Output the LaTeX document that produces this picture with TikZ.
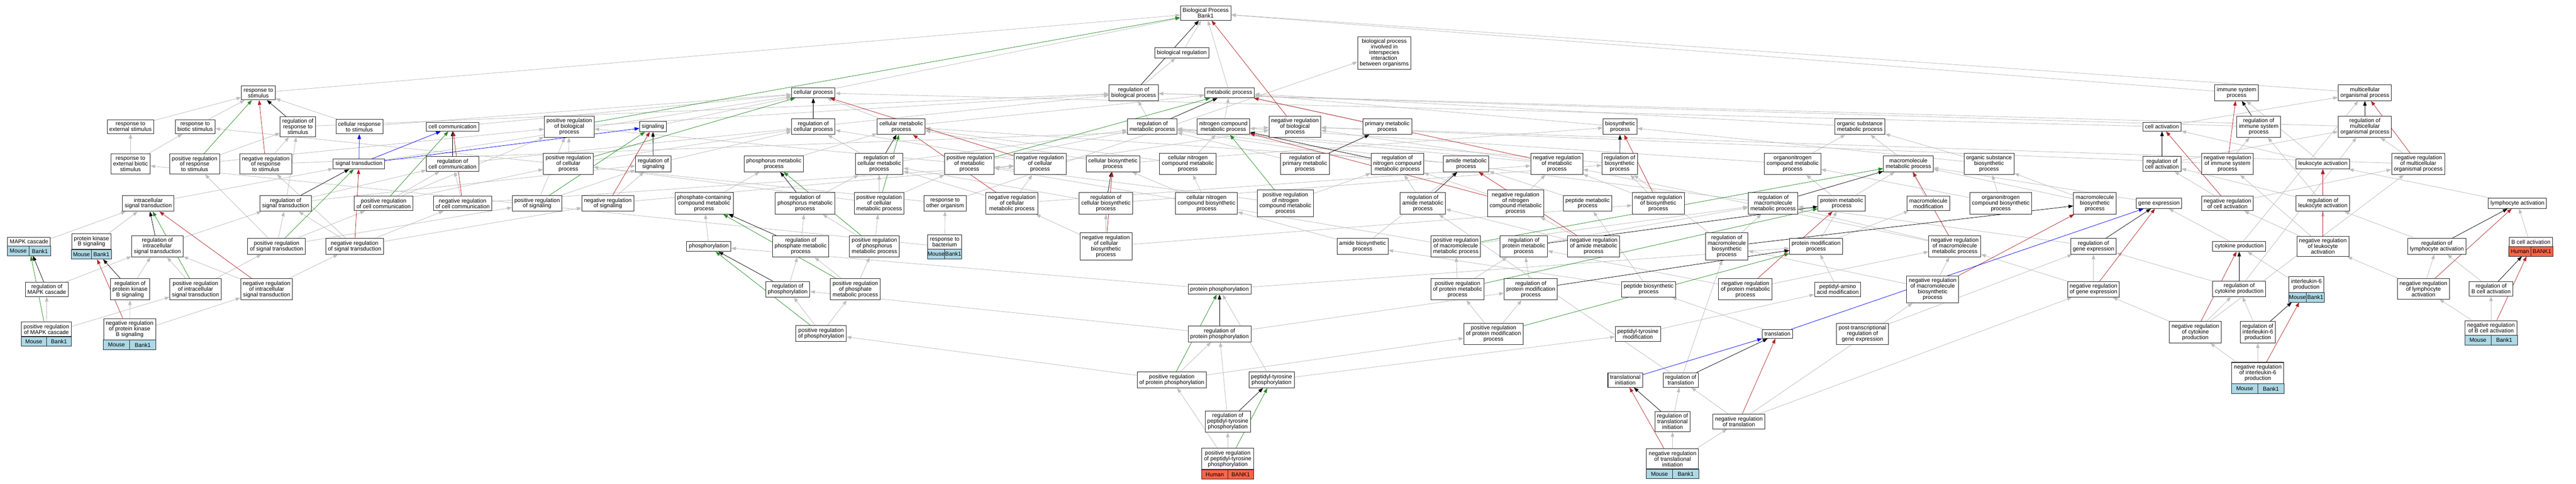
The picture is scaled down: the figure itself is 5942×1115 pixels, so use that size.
\documentclass[tikz,border=0pt]{standalone}
\usepackage{fontspec}
\setmainfont{Liberation Sans}
\usepackage{tikz}
\usetikzlibrary{arrows.meta,fit,backgrounds}
\tikzset{>={Triangle[length=11pt,width=8pt]}}
\usepackage{xcolor}
\definecolor{edgegray}{HTML}{BEBEBE}
\definecolor{posgreen}{HTML}{228B22}
\definecolor{negred}{HTML}{B22222}
\definecolor{mouseblue}{HTML}{ADD8E6}
\definecolor{humanred}{HTML}{FF6347}
\tikzstyle{term}=[draw=black!85,line width=1.2pt,fill=white,align=center,inner xsep=5pt,inner ysep=5.5pt,font=\fontsize{13}{13}\selectfont]
\tikzstyle{orgrow}=[draw=black!85,line width=1.2pt]
\tikzstyle{orgtext}=[inner sep=0pt,font=\fontsize{13}{13}\selectfont]
\tikzstyle{isa}=[->,draw=edgegray,line width=1pt]
\tikzstyle{reg}=[->,draw=black,line width=0.9pt]
\tikzstyle{preg}=[->,draw=posgreen,line width=0.9pt]
\tikzstyle{nreg}=[->,draw=negred,line width=0.9pt]
\tikzstyle{partof}=[->,draw=blue,line width=0.9pt]
% organism / gene row under a term
\newcommand\species[4]{%
  \coordinate (#1-c) at ([yshift=-22pt]#1-t.south east);
  \coordinate (#1-m) at ([yshift=-22pt]#1-t.south);
  \draw[orgrow,fill=#4] (#1-t.south west) rectangle (#1-c);
  \draw[orgrow] (#1-t.south) -- (#1-m);
  \path (#1-t.south west) -- (#1-m) node[midway,orgtext] {#2};
  \path (#1-t.south) -- (#1-c) node[midway,orgtext] {#3};
  \node[fit=(#1-t)(#1-c),inner sep=0pt] (#1) {};
}
\begin{document}
\begin{tikzpicture}[x=1pt,y=-1pt]
  \useasboundingbox (0,0) rectangle (5942,1115);
  % top
  \node[term] (bp) at (2781,30) {Biological Process\\Bank1};
  \node[term] (breg) at (2726,122) {biological regulation};
  \node[term] (bpii) at (3193,122) {biological process\\involved in\\interspecies\\interaction\\between organisms};
  % row 1
  \node[term] (rts) at (596,214) {response to\\stimulus};
  \node[term] (cp) at (1876,214) {cellular process};
  \node[term] (rbp) at (2615,214) {regulation of\\biological process};
  \node[term] (mp) at (2836,214) {metabolic process};
  \node[term] (isp) at (5159,214) {immune system\\process};
  \node[term] (mop) at (5455,214) {multicellular\\organismal process};
  % row 2
  \node[term] (rtes) at (301,292) {response to\\external stimulus};
  \node[term] (rtbs) at (450,292) {response to\\biotic stimulus};
  \node[term] (rrts) at (687,292) {regulation of\\response to\\stimulus};
  \node[term] (crts) at (829,292) {cellular response\\to stimulus};
  \node[term] (cc) at (1044,292) {cell communication};
  \node[term] (prbp) at (1313,292) {positive regulation\\of biological\\process};
  \node[term] (sig) at (1506,292) {signaling};
  \node[term] (rcp) at (1876,292) {regulation of\\cellular process};
  \node[term] (cmp) at (2079,292) {cellular metabolic\\process};
  \node[term] (rmp) at (2658,292) {regulation of\\metabolic process};
  \node[term] (ncmp) at (2822,292) {nitrogen compound\\metabolic process};
  \node[term] (nrbp) at (2987,292) {negative regulation\\of biological\\process};
  \node[term] (primp) at (3200,292) {primary metabolic\\process};
  \node[term] (bsp) at (3737,292) {biosynthetic\\process};
  \node[term] (osmp) at (4290,292) {organic substance\\metabolic process};
  \node[term] (ca) at (4987,292) {cell activation};
  \node[term] (risp) at (5210,292) {regulation of\\immune system\\process};
  \node[term] (rmop) at (5455,292) {regulation of\\multicellular\\organismal process};
  % row 3
  \node[term] (rtebs) at (301,378) {response to\\external biotic\\stimulus};
  \node[term] (prrts) at (449,378) {positive regulation\\of response\\to stimulus};
  \node[term] (nrrts) at (613,378) {negative regulation\\of response\\to stimulus};
  \node[term] (st) at (828,378) {signal transduction};
  \node[term] (rcc) at (1044,378) {regulation of\\cell communication};
  \node[term] (prcp) at (1311,378) {positive regulation\\of cellular\\process};
  \node[term] (rsig) at (1507,378) {regulation of\\signaling};
  \node[term] (phmp) at (1785,378) {phosphorus metabolic\\process};
  \node[term] (rcmp) at (2028,378) {regulation of\\cellular metabolic\\process};
  \node[term] (prmp) at (2236,378) {positive regulation\\of metabolic\\process};
  \node[term] (nrcp) at (2399,378) {negative regulation\\of cellular\\process};
  \node[term] (cbp) at (2567,378) {cellular biosynthetic\\process};
  \node[term] (cncmp) at (2740,378) {cellular nitrogen\\compound metabolic\\process};
  \node[term] (rprimp) at (3010,378) {regulation of\\primary metabolic\\process};
  \node[term] (rncmp) at (3223,378) {regulation of\\nitrogen compound\\metabolic process};
  \node[term] (amp) at (3382,378) {amide metabolic\\process};
  \node[term] (nrmp) at (3591,378) {negative regulation\\of metabolic\\process};
  \node[term] (rbsp) at (3736,378) {regulation of\\biosynthetic\\process};
  \node[term] (oncmp) at (4135,378) {organonitrogen\\compound metabolic\\process};
  \node[term] (mmp) at (4402,378) {macromolecule\\metabolic process};
  \node[term] (osbp) at (4588,378) {organic substance\\biosynthetic\\process};
  \node[term] (rca) at (4987,378) {regulation of\\cell activation};
  \node[term] (nrisp) at (5138,378) {negative regulation\\of immune system\\process};
  \node[term] (la) at (5358,378) {leukocyte activation};
  \node[term] (nrmop) at (5578,378) {negative regulation\\of multicellular\\organismal process};
  % row 4
  \node[term] (ist) at (342,469) {intracellular\\signal transduction};
  \node[term] (rst) at (659,469) {regulation of\\signal transduction};
  \node[term] (prcc) at (885,469) {positive regulation\\of cell communication};
  \node[term] (nrcc) at (1067,469) {negative regulation\\of cell communication};
  \node[term] (prsig) at (1239,469) {positive regulation\\of signaling};
  \node[term] (nrsig) at (1402,469) {negative regulation\\of signaling};
  \node[term] (pcmp) at (1624,469) {phosphate-containing\\compound metabolic\\process};
  \node[term] (rphmp) at (1857,469) {regulation of\\phosphorus metabolic\\process};
  \node[term] (prcmp) at (2028,469) {positive regulation\\of cellular\\metabolic process};
  \node[term] (rtoo) at (2180,469) {response to\\other organism};
  \node[term] (nrcmp) at (2334,469) {negative regulation\\of cellular\\metabolic process};
  \node[term] (rcbp) at (2551,469) {regulation of\\cellular biosynthetic\\process};
  \node[term] (cncbp) at (2783,469) {cellular nitrogen\\compound biosynthetic\\process};
  \node[term] (prncmp) at (2965,469) {positive regulation\\of nitrogen\\compound metabolic\\process};
  \node[term] (ramp) at (3282,469) {regulation of\\amide metabolic\\process};
  \node[term] (nrncmp) at (3496,469) {negative regulation\\of nitrogen\\compound metabolic\\process};
  \node[term] (pepmp) at (3662,469) {peptide metabolic\\process};
  \node[term] (nrbsp) at (3825,469) {negative regulation\\of biosynthetic\\process};
  \node[term] (rmmp) at (4090,469) {regulation of\\macromolecule\\metabolic process};
  \node[term] (prtmp) at (4248,469) {protein metabolic\\process};
  \node[term] (mmod) at (4448,469) {macromolecule\\modification};
  \node[term] (oncbp) at (4615,469) {organonitrogen\\compound biosynthetic\\process};
  \node[term] (mbp) at (4832,469) {macromolecule\\biosynthetic\\process};
  \node[term] (ge) at (4980,469) {gene expression};
  \node[term] (nrca) at (5138,469) {negative regulation\\of cell activation};
  \node[term] (rla) at (5358,469) {regulation of\\leukocyte activation};
  \node[term] (lya) at (5807,469) {lymphocyte activation};
  % row 5
  \node[term] (mapk-t) at (67,557) {MAPK cascade};
  \node[term] (pkb-t) at (211,557) {protein kinase\\B signaling};
  \node[term] (rist) at (363,568) {regulation of\\intracellular\\signal transduction};
  \node[term] (prst) at (638,568) {positive regulation\\of signal transduction};
  \node[term] (nrst) at (818,568) {negative regulation\\of signal transduction};
  \node[term] (phos) at (1635,568) {phosphorylation};
  \node[term] (rphamp) at (1847,568) {regulation of\\phosphate metabolic\\process};
  \node[term] (prphmp) at (2017,568) {positive regulation\\of phosphorus\\metabolic process};
  \node[term] (rtb-t) at (2179,558) {response to\\bacterium};
  \node[term] (nrcbp) at (2551,568) {negative regulation\\of cellular\\biosynthetic\\process};
  \node[term] (abp) at (3143,568) {amide biosynthetic\\process};
  \node[term] (prmmp) at (3358,568) {positive regulation\\of macromolecule\\metabolic process};
  \node[term] (rprtmp) at (3515,568) {regulation of\\protein metabolic\\process};
  \node[term] (nramp) at (3676,568) {negative regulation\\of amide metabolic\\process};
  \node[term] (rmbp) at (3983,568) {regulation of\\macromolecule\\biosynthetic\\process};
  \node[term] (pmod) at (4189,568) {protein modification\\process};
  \node[term] (nrmmp) at (4509,568) {negative regulation\\of macromolecule\\metabolic process};
  \node[term] (rge) at (4829,568) {regulation of\\gene expression};
  \node[term] (cyp) at (5165,568) {cytokine production};
  \node[term] (nrla) at (5358,568) {negative regulation\\of leukocyte\\activation};
  \node[term] (rlya) at (5621,568) {regulation of\\lymphocyte activation};
  \node[term] (bca-t) at (5838,558) {B cell activation};
  % row 6
  \node[term] (rmc) at (108,667) {regulation of\\MAPK cascade};
  \node[term] (rpkb) at (300,667) {regulation of\\protein kinase\\B signaling};
  \node[term] (prist) at (451,667) {positive regulation\\of intracellular\\signal transduction};
  \node[term] (nrist) at (615,667) {negative regulation\\of intracellular\\signal transduction};
  \node[term] (rphos) at (1817,667) {regulation of\\phosphorylation};
  \node[term] (prphamp) at (1973,667) {positive regulation\\of phosphate\\metabolic process};
  \node[term] (pphos) at (2813,667) {protein phosphorylation};
  \node[term] (prprtmp) at (3362,667) {positive regulation\\of protein metabolic\\process};
  \node[term] (rpmod) at (3531,667) {regulation of\\protein modification\\process};
  \node[term] (pepbp) at (3803,667) {peptide biosynthetic\\process};
  \node[term] (nrprtmp) at (4026,667) {negative regulation\\of protein metabolic\\process};
  \node[term] (pamod) at (4239,667) {peptidyl-amino\\acid modification};
  \node[term] (nrmbp) at (4458,667) {negative regulation\\of macromolecule\\biosynthetic\\process};
  \node[term] (nrge) at (4829,667) {negative regulation\\of gene expression};
  \node[term] (rcyp) at (5165,666) {regulation of\\cytokine production};
  \node[term] (il6-t) at (5320,656) {interleukin-6\\production};
  \node[term] (nrlya) at (5590,666) {negative regulation\\of lymphocyte\\activation};
  \node[term] (rbca) at (5746,666) {regulation of\\B cell activation};
  % row 7
  \node[term] (prmc-t) at (107,759) {positive regulation\\of MAPK cascade};
  \node[term] (nrpkb-t) at (299,759) {negative regulation\\of protein kinase\\B signaling};
  \node[term] (prphos) at (1894,769) {positive regulation\\of phosphorylation};
  \node[term] (rpphos) at (2813,770) {regulation of\\protein phosphorylation};
  \node[term] (prpmod) at (3445,770) {positive regulation\\of protein modification\\process};
  \node[term] (ptmod) at (3778,770) {peptidyl-tyrosine\\modification};
  \node[term] (trans) at (4100,770) {translation};
  \node[term] (ptrge) at (4296,770) {post-transcriptional\\regulation of\\gene expression};
  \node[term] (nrcyp) at (5064,766) {negative regulation\\of cytokine\\production};
  \node[term] (ril6) at (5208,766) {regulation of\\interleukin-6\\production};
  \node[term] (nrbca-t) at (5746,756) {negative regulation\\of B cell activation};
  % row 8 and below
  \node[term] (prpphos) at (2703,876) {positive regulation\\of protein phosphorylation};
  \node[term] (ptphos) at (2933,876) {peptidyl-tyrosine\\phosphorylation};
  \node[term] (ti) at (3749,876) {translational\\initiation};
  \node[term] (rtrans) at (3877,876) {regulation of\\translation};
  \node[term] (nril6-t) at (5208,860) {negative regulation\\of interleukin-6\\production};
  \node[term] (rptphos) at (2832,972) {regulation of\\peptidyl-tyrosine\\phosphorylation};
  \node[term] (rti) at (3858,972) {regulation of\\translational\\initiation};
  \node[term] (nrtrans) at (4011,972) {negative regulation\\of translation};
  \node[term] (prptphos-t) at (2832,1058) {positive regulation\\of peptidyl-tyrosine\\phosphorylation};
  \node[term] (nrti-t) at (3858,1058) {negative regulation\\of translational\\initiation};
  % annotated terms
  \species{mapk}{Mouse}{Bank1}{mouseblue}
  \species{pkb}{Mouse}{Bank1}{mouseblue}
  \species{prmc}{Mouse}{Bank1}{mouseblue}
  \species{nrpkb}{Mouse}{Bank1}{mouseblue}
  \species{rtb}{Mouse}{Bank1}{mouseblue}
  \species{prptphos}{Human}{BANK1}{humanred}
  \species{nrti}{Mouse}{Bank1}{mouseblue}
  \species{il6}{Mouse}{Bank1}{mouseblue}
  \species{bca}{Human}{BANK1}{humanred}
  \species{nrbca}{Mouse}{Bank1}{mouseblue}
  \species{nril6}{Mouse}{Bank1}{mouseblue}

  \begin{pgfonlayer}{background}
  % is_a
  \foreach \a/\b in {rts/bp,rtes/rts,rtbs/rts,crts/rts,rtebs/rtes,rtebs/rtbs,prrts/rrts,nrrts/rrts,prrts/prbp,nrrts/nrbp,
      rrts/rbp,crts/cp,st/cp,ist/st,rst/rrts,rst/rcc,prcc/rcc,prcc/prbp,prst/prrts,nrst/nrrts,prst/rst,nrst/rst,
      prst/prcc,nrst/nrcc,mapk/ist,pkb/ist,rist/rst,rmc/rist,rpkb/rist,prist/rist,prist/prst,nrist/rist,nrist/nrst,
      prmc/rmc,prmc/prist,nrpkb/rpkb,nrpkb/nrist,cc/cp,rcc/rcp,prbp/rbp,prcp/prbp,prcp/rcp,sig/cp,rsig/rcp,
      nrcc/rcc,prsig/rsig,nrsig/rsig,prsig/prbp,nrsig/nrcp,prcc/prcp,rst/rsig,prst/prsig,nrst/nrsig,nrcc/nrcp,
      nrcp/rcp,rcp/rbp,phmp/cmp,pcmp/phmp,rphmp/rcmp,phos/pcmp,rphamp/rphmp,prphmp/rphmp,prphamp/rphamp,
      prphamp/prphmp,rphos/rphamp,prphos/rphos,prphos/prphamp,pphos/phos,prphmp/prcmp}
    \draw[isa] (\a) -- (\b);
  \foreach \a/\b in {breg/bp,rbp/breg,mp/bp,cp/bp,cmp/mp,cmp/cp,rmp/rbp,prmp/rmp,prmp/prbp,ncmp/mp,cncmp/ncmp,
      cncmp/cmp,cbp/cmp,cbp/bsp,rcbp/rcmp,rcbp/rbsp,cncbp/cncmp,cncbp/cbp,rtoo/rtbs,rtoo/bpii,rtb/rtoo,rtb/rtebs,
      nrcmp/rcmp,nrcmp/nrcp,nrcmp/nrmp,prcmp/rcmp,prcmp/prmp,prcmp/prcp,rprimp/rmp,nrcbp/rcbp,nrcbp/nrbsp,
      nrcbp/nrcmp,rcmp/rmp,rcmp/rcp,nrcp/nrbp,primp/mp,bsp/mp,rbsp/rmp,nrbsp/rbsp,nrbsp/nrmp,nrmp/rmp,nrmp/nrbp,
      amp/cmp,pepmp/amp,pepbp/pepmp,pepbp/abp,ramp/rncmp,nramp/ramp,nramp/nrncmp,nrncmp/rncmp,nrncmp/nrmp,
      prncmp/rncmp,prncmp/prmp,rncmp/rmp,abp/amp,abp/cncbp,prmmp/rmmp,rprtmp/rmmp,prprtmp/rprtmp,prprtmp/prmmp,
      rpmod/rprtmp,prpmod/prprtmp,prpmod/rpmod,ptmod/pamod,rti/rtrans,nrti/rti,nrti/nrtrans,nrtrans/rtrans,
      rtrans/rmbp,rtrans/ramp,rmbp/rbsp,rmbp/rmmp}
    \draw[isa] (\a) -- (\b);
  \foreach \a/\b in {osmp/mp,oncmp/osmp,oncmp/ncmp,mmp/osmp,osbp/osmp,osbp/bsp,ca/cp,rmmp/rmp,prtmp/mmp,
      prtmp/oncmp,mmod/mmp,oncbp/osbp,oncbp/oncmp,mbp/osbp,mbp/mmp,ge/mmp,pmod/mmod,pmod/prtmp,pamod/pmod,
      nrmbp/nrmmp,nrmbp/rmbp,nrmmp/rmmp,nrge/rge,ptrge/rge,nrge/nrmmp,nrprtmp/rprtmp,nrprtmp/nrmmp,nrtrans/nrge,
      nrtrans/nrmbp,trans/pepbp,pphos/pmod,ptphos/pphos,ptphos/ptmod,rpphos/rphos,prpphos/rpphos,prpphos/prphos,
      rptphos/rpphos,prptphos/rptphos,prptphos/prpphos,rpphos/rpmod,prpphos/prpmod,rge/rmmp,nrmmp/nrmp,prmmp/prmp,
      isp/bp,mop/bp,la/isp,la/ca,rla/rca,rla/risp,nrla/nrca,nrla/rla,nrla/nrisp,nrca/rca,nrca/nrmop,nrisp/risp,
      nrisp/nrbp,rca/rmop,ca/mop,lya/la,bca/lya,rlya/rla,nrlya/rlya,nrlya/nrla,rbca/rlya,nrbca/rbca,nrbca/nrlya,
      nrmop/rmop,nrmop/nrbp,rmop/rbp,risp/rbp,cyp/mop,cyp/ge,il6/cyp,rcyp/rmop,rcyp/rge,nrcyp/rcyp,ril6/rcyp,
      nril6/ril6,nril6/nrcyp,nrcyp/nrmop,nrcyp/nrge}
    \draw[isa] (\a) -- (\b);
  % regulates
  \foreach \a/\b in {rrts/rts,rst/st,rist/ist,rmc/mapk,rpkb/pkb,rcc/cc,rsig/sig,rcp/cp,rphmp/phmp,rphamp/pcmp,
      rphos/phos,rbp/bp,rmp/mp,rcmp/cmp,rcbp/cbp,rprimp/primp,rncmp/ncmp,rbsp/bsp,ramp/amp,rmmp/mmp,rprtmp/prtmp,
      rpmod/pmod,rmbp/mbp,rti/ti,rtrans/trans,rge/ge,rca/ca,risp/isp,rmop/mop,rla/la,rlya/lya,rbca/bca,rcyp/cyp,
      ril6/il6,rpphos/pphos,rptphos/ptphos}
    \draw[reg] (\a) -- (\b);
  % positively regulates
  \foreach \a/\b in {prrts/rts,prst/st,prist/ist,prmc/mapk,prcc/cc,prbp/bp,prcp/cp,prsig/sig,prphmp/phmp,
      prphamp/pcmp,prphos/phos,prcmp/cmp,prmp/mp,prncmp/ncmp,prmmp/mmp,prprtmp/prtmp,prpmod/pmod,prpphos/pphos,
      prptphos/ptphos}
    \draw[preg] (\a) -- (\b);
  % negatively regulates
  \foreach \a/\b in {nrrts/rts,nrst/st,nrist/ist,nrpkb/pkb,nrcc/cc,nrsig/sig,nrcp/cp,nrbp/bp,nrcmp/cmp,
      nrncmp/ncmp,nrcbp/cbp,nrmp/mp,nrbsp/bsp,nramp/amp,nrmmp/mmp,nrprtmp/prtmp,nrmbp/mbp,nrti/ti,nrtrans/trans,
      nrge/ge,nrca/ca,nrisp/isp,nrmop/mop,nrla/la,nrlya/lya,nrbca/bca,nrcyp/cyp,nril6/il6}
    \draw[nreg] (\a) -- (\b);
  % part_of
  \foreach \a/\b in {st/crts,st/cc,st/sig,ti/trans,trans/ge}
    \draw[partof] (\a) -- (\b);
  \end{pgfonlayer}
\end{tikzpicture}
\end{document}
